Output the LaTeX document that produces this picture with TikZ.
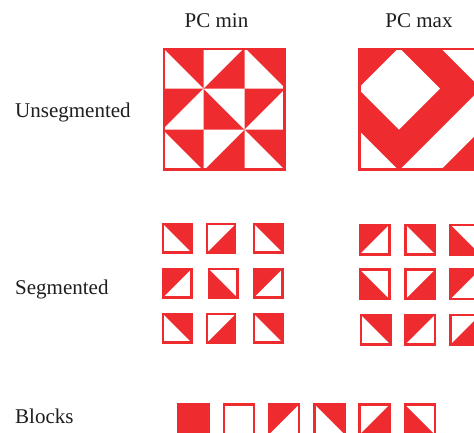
\documentclass[tikz,border=0pt]{standalone}
\usepackage{fontspec}
\setmainfont{Liberation Serif}
\definecolor{pcred}{RGB}{238,44,48}
\definecolor{txt}{RGB}{30,30,30}
\newcommand\triLL[3]{\fill[white] (#1,#2) -- (#1,#2+#3) -- (#1+#3,#2+#3) -- cycle;}
\newcommand\triLR[3]{\fill[white] (#1+#3,#2) -- (#1+#3,#2+#3) -- (#1,#2+#3) -- cycle;}
\newcommand\triUL[3]{\fill[white] (#1,#2) -- (#1+#3,#2) -- (#1,#2+#3) -- cycle;}
\newcommand\triUR[3]{\fill[white] (#1,#2) -- (#1+#3,#2) -- (#1+#3,#2+#3) -- cycle;}
\newcommand\triE[3]{\fill[white] (#1,#2) rectangle (#1+#3,#2+#3);}
\newcommand\triF[3]{}
% small square: centre x, centre y, size, type
\newcommand\sqbox[4]{%
  \fill[pcred] (#1-#3/2,#2-#3/2) rectangle (#1+#3/2,#2+#3/2);
  \csname tri#4\endcsname{#1-#3/2}{#2-#3/2}{#3}
  \draw[pcred,line width=2.4pt] (#1-#3/2+1.2,#2-#3/2+1.2) rectangle (#1+#3/2-1.2,#2+#3/2-1.2);
}
% big square: left x, top y, cell, list of nine types
\newcommand\bigsq[4]{%
  \fill[pcred] (#1,#2) rectangle (#1+3*#3,#2+3*#3);
  \foreach \t [count=\i from 0] in {#4} {
    \pgfmathtruncatemacro\cc{mod(\i,3)}
    \pgfmathtruncatemacro\rr{int(\i/3)}
    \csname tri\t\endcsname{#1+\cc*#3}{#2+\rr*#3}{#3}
  }
  \draw[pcred,line width=2.6pt] (#1+1.3,#2+1.3) rectangle (#1+3*#3-1.3,#2+3*#3-1.3);
}
\tikzset{lbl/.style={font=\fontsize{21}{25}\selectfont, text=txt, inner sep=0pt}}
\begin{document}
\begin{tikzpicture}[x=1pt,y=-1pt]
\useasboundingbox (0,0) rectangle (474,432);
\clip (0,0) rectangle (474,432);
\fill[white] (0,0) rectangle (474,432);
% labels
\node[lbl,anchor=base] (pcmin) at (216.5,27.5) {PC min};
\node[lbl,anchor=base] (pcmax) at (419,27.5) {PC max};
\node[lbl,anchor=base west] (unseg) at (15,117) {Unsegmented};
\node[lbl,anchor=base west] (seg) at (15,294) {Segmented};
\node[lbl,anchor=base west] (blocks) at (15,423) {Blocks};
% unsegmented PC min
\bigsq{162.5}{47.5}{41}{LL,UL,LL,LR,UR,LR,LL,UL,LL}
% unsegmented PC max (drawn as whole white regions)
\begin{scope}[shift={(358,47.5)}]
  \fill[pcred] (0,0) rectangle (123,123);
  \fill[white] (41,0) -- (82,41) -- (41,82) -- (0,41) -- cycle;
  \fill[white] (82,0) -- (123,0) -- (123,41) -- cycle;
  \fill[white] (123,41) -- (123,82) -- (82,123) -- (41,123) -- cycle;
  \fill[white] (0,82) -- (0,123) -- (41,123) -- cycle;
  \draw[pcred,line width=2.6pt] (1.3,1.3) rectangle (121.7,121.7);
\end{scope}
% segmented PC min
\sqbox{177.3}{238.3}{30.5}{LL}
\sqbox{221.2}{238.3}{30.5}{UL}
\sqbox{268.3}{238.3}{30.5}{LL}
\sqbox{177.3}{283.3}{30.5}{LR}
\sqbox{223.3}{283.3}{30.5}{UR}
\sqbox{268.3}{283.3}{30.5}{LR}
\sqbox{177.3}{328.3}{30.5}{LL}
\sqbox{221.2}{328.3}{30.5}{UL}
\sqbox{268.3}{328.3}{30.5}{LL}
% segmented PC max
\sqbox{374.5}{239.5}{32}{LR}
\sqbox{420.3}{239.5}{32}{LL}
\sqbox{465.3}{239.5}{32}{UR}
\sqbox{374.5}{284.2}{32}{UR}
\sqbox{420.3}{284.2}{32}{UL}
\sqbox{465.3}{284.2}{32}{LR}
\sqbox{375.5}{329.5}{32}{LL}
\sqbox{420.3}{329.5}{32}{LR}
\sqbox{465.3}{329.5}{32}{UL}
% blocks
\sqbox{193.7}{419.5}{32.5}{F}
\sqbox{239.2}{419.5}{32.5}{E}
\sqbox{284.2}{419.5}{32.5}{LR}
\sqbox{329.7}{419.5}{32.5}{LL}
\sqbox{374.5}{419.5}{32.5}{UL}
\sqbox{419.8}{419.5}{32.5}{UR}
\end{tikzpicture}
\end{document}
